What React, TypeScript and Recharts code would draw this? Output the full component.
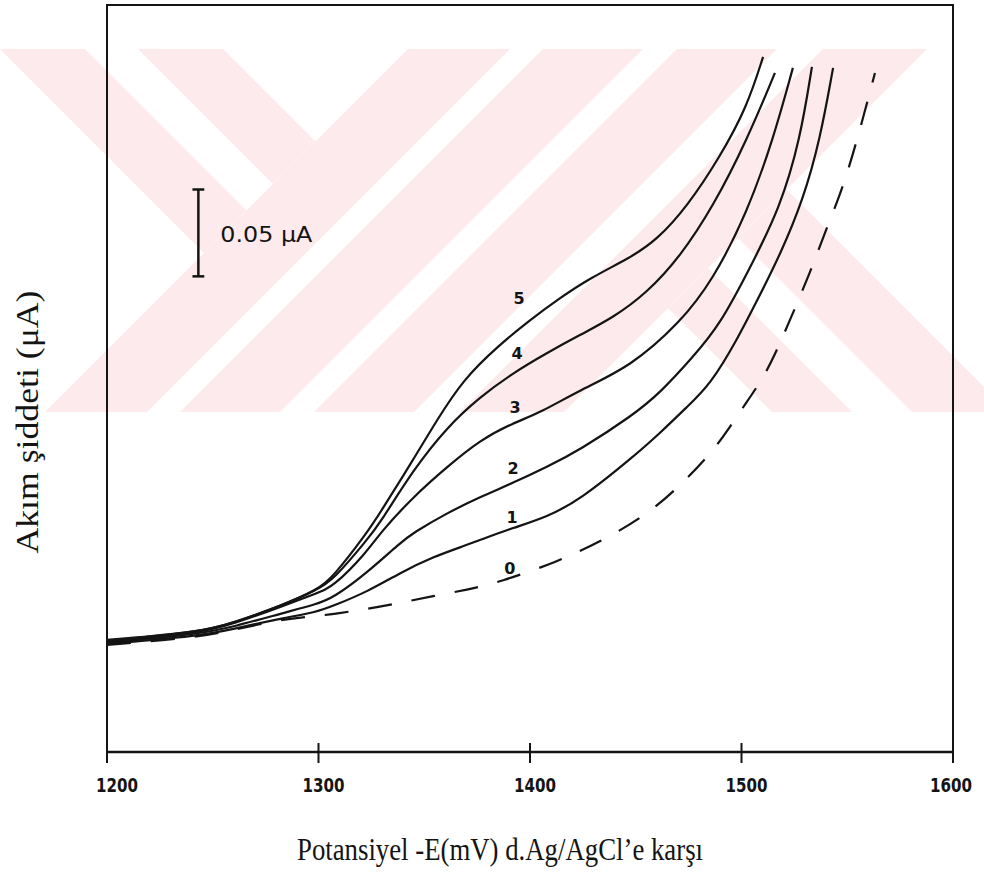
import React from 'react'
import {
  LineChart,
  Line,
  XAxis,
  YAxis,
  ReferenceArea,
  ReferenceLine,
  ReferenceDot,
  Label,
} from 'recharts'

// potential in mV (-E vs Ag/AgCl), current in µA (baseline arbitrary, scale bar = 0.05 µA)
const curve0 = [
  { e: 1200, i: 0.0616 }, { e: 1244, i: 0.0662 }, { e: 1259.6, i: 0.0702 }, { e: 1283.2, i: 0.0766 },
  { e: 1299.3, i: 0.0783 }, { e: 1306.9, i: 0.0794 }, { e: 1322.9, i: 0.0823 }, { e: 1338.5, i: 0.0858 },
  { e: 1354.1, i: 0.0898 }, { e: 1370.2, i: 0.0933 }, { e: 1385.8, i: 0.0979 }, { e: 1412.8, i: 0.1094 },
  { e: 1433.1, i: 0.1209 }, { e: 1455.3, i: 0.1364 }, { e: 1472.3, i: 0.1548 }, { e: 1488.4, i: 0.1755 },
  { e: 1500.7, i: 0.1986 }, { e: 1512.1, i: 0.2182 }, { e: 1521.5, i: 0.2447 }, { e: 1532.4, i: 0.2757 },
  { e: 1540.4, i: 0.3022 }, { e: 1548.0, i: 0.3247 }, { e: 1556.0, i: 0.358 }, { e: 1563.1, i: 0.3909 },
]

const curve1 = [
  { e: 1200, i: 0.0622 }, { e: 1244, i: 0.0668 }, { e: 1259.6, i: 0.0708 }, { e: 1283.2, i: 0.0771 },
  { e: 1299.3, i: 0.0806 }, { e: 1306.9, i: 0.0841 }, { e: 1322.9, i: 0.0921 }, { e: 1338.5, i: 0.1031 },
  { e: 1354.1, i: 0.1123 }, { e: 1370.2, i: 0.1192 }, { e: 1376.4, i: 0.1221 }, { e: 1392.0, i: 0.129 },
  { e: 1408.0, i: 0.1353 }, { e: 1423.6, i: 0.1451 }, { e: 1448.7, i: 0.1698 }, { e: 1461.5, i: 0.1836 },
  { e: 1474.2, i: 0.1986 }, { e: 1485.1, i: 0.2113 }, { e: 1497.9, i: 0.2372 }, { e: 1508.7, i: 0.2631 },
  { e: 1518.2, i: 0.2861 }, { e: 1529.1, i: 0.3178 }, { e: 1537.1, i: 0.3523 }, { e: 1543.3, i: 0.3938 },
]

const curve2 = [
  { e: 1200, i: 0.0627 }, { e: 1244, i: 0.068 }, { e: 1259.6, i: 0.072 }, { e: 1283.2, i: 0.08 },
  { e: 1299.3, i: 0.0852 }, { e: 1306.9, i: 0.0887 }, { e: 1322.9, i: 0.1031 }, { e: 1338.5, i: 0.1203 },
  { e: 1344.7, i: 0.1261 }, { e: 1360.8, i: 0.1376 }, { e: 1376.4, i: 0.1468 }, { e: 1392.0, i: 0.1549 },
  { e: 1408.0, i: 0.1641 }, { e: 1423.6, i: 0.1739 }, { e: 1448.7, i: 0.1939 }, { e: 1461.5, i: 0.2067 },
  { e: 1477.1, i: 0.2274 }, { e: 1489.8, i: 0.2459 }, { e: 1504.0, i: 0.2786 }, { e: 1518.2, i: 0.3132 },
  { e: 1527.7, i: 0.3523 }, { e: 1533.3, i: 0.3944 },
]

const curve3 = [
  { e: 1200, i: 0.0633 }, { e: 1244, i: 0.0685 }, { e: 1259.6, i: 0.0737 }, { e: 1283.2, i: 0.084 },
  { e: 1299.3, i: 0.0915 }, { e: 1306.9, i: 0.095 }, { e: 1322.9, i: 0.1151 }, { e: 1329.1, i: 0.1261 },
  { e: 1344.7, i: 0.1468 }, { e: 1360.8, i: 0.1641 }, { e: 1376.4, i: 0.1796 }, { e: 1392.0, i: 0.1894 },
  { e: 1404.7, i: 0.1952 }, { e: 1423.6, i: 0.2084 }, { e: 1447.3, i: 0.2216 }, { e: 1470.9, i: 0.247 },
  { e: 1486.5, i: 0.2717 }, { e: 1502.6, i: 0.3103 }, { e: 1514.9, i: 0.3523 }, { e: 1524.3, i: 0.3938 },
]

const curve4 = [
  { e: 1200, i: 0.0639 }, { e: 1244, i: 0.0691 }, { e: 1259.6, i: 0.0743 }, { e: 1283.2, i: 0.0846 },
  { e: 1299.3, i: 0.0933 }, { e: 1306.9, i: 0.099 }, { e: 1322.9, i: 0.122 }, { e: 1329.1, i: 0.1318 },
  { e: 1344.7, i: 0.1623 }, { e: 1360.8, i: 0.1871 }, { e: 1376.4, i: 0.2044 }, { e: 1392.0, i: 0.2182 },
  { e: 1408.0, i: 0.2297 }, { e: 1423.6, i: 0.2401 }, { e: 1439.2, i: 0.2499 }, { e: 1455.3, i: 0.2643 },
  { e: 1470.9, i: 0.285 }, { e: 1486.5, i: 0.3138 }, { e: 1502.6, i: 0.3523 }, { e: 1515.8, i: 0.3909 },
]

const curve5 = [
  { e: 1200, i: 0.0645 }, { e: 1244, i: 0.0691 }, { e: 1259.6, i: 0.0743 }, { e: 1283.2, i: 0.0846 },
  { e: 1299.3, i: 0.0933 }, { e: 1306.9, i: 0.1007 }, { e: 1322.9, i: 0.1261 }, { e: 1329.1, i: 0.1376 },
  { e: 1344.7, i: 0.1681 }, { e: 1356.0, i: 0.1911 }, { e: 1368.3, i: 0.2142 }, { e: 1384.4, i: 0.2332 },
  { e: 1400.0, i: 0.2487 }, { e: 1412.8, i: 0.2602 }, { e: 1428.4, i: 0.2729 }, { e: 1447.3, i: 0.2844 },
  { e: 1460, i: 0.2948 }, { e: 1474.2, i: 0.3138 }, { e: 1489.8, i: 0.3425 }, { e: 1502.6, i: 0.3713 },
  { e: 1510.2, i: 0.4001 },
]

const xTicks = [1200, 1300, 1400, 1500, 1600]

// curve number labels: [text, potential, current]
const curveLabels: [string, number, number][] = [
  ['5', 1394.8, 0.2614],
  ['4', 1393.9, 0.2297],
  ['3', 1392.9, 0.1986],
  ['2', 1392.0, 0.1635],
  ['1', 1391.5, 0.1353],
  ['0', 1390.5, 0.1059],
]

// 0.05 µA scale bar
const barE = 1243.2
const barBottom = 0.2738
const barTop = 0.3238

const ink = '#141414'
const pink = '#fdeaed'

// thesis-centre watermark stripes (background decoration, page pixels)
const watermark = [
  '408,49 510,49 147,412 45,412',
  '543,49 643,49 280,412 180,412',
  '677,49 777,49 414,412 314,412',
  '823,49 927,49 564,412 460,412',
  '0,49 85,49 246.5,210.5 204,253',
  '138,49 223,49 315.5,141.5 273,184',
  '786.5,189.5 1009,412 912,412 738,238',
  '708,268 852,412 772,412 668,308',
]

function XTick(props: any) {
  const { x, y, payload } = props
  const dx = payload.value === 1200 ? 10 : payload.value === 1600 ? -2 : 5
  return (
    <g>
      <line x1={x} x2={x} y1={y - 9} y2={y + 11} stroke={ink} strokeWidth={2} />
      <text
        x={x + dx}
        y={y + 40}
        textAnchor="middle"
        fontFamily="DejaVu Sans"
        fontWeight="bold"
        fontSize={20}
        textLength={42}
        lengthAdjust="spacingAndGlyphs"
        fill={ink}
      >
        {payload.value}
      </text>
    </g>
  )
}

function AxisTitles() {
  return (
    <g>
      <text
        x={500}
        y={860}
        textAnchor="middle"
        fontFamily="Liberation Serif"
        fontSize={32}
        textLength={406}
        lengthAdjust="spacingAndGlyphs"
        fill={ink}
      >
        Potansiyel -E(mV) d.Ag/AgCl’e karşı
      </text>
      <text
        x={38}
        y={422}
        transform="rotate(-90 38 422)"
        textAnchor="middle"
        fontFamily="Liberation Serif"
        fontSize={32}
        textLength={263}
        lengthAdjust="spacingAndGlyphs"
        fill={ink}
      >
        Akım şiddeti (μA)
      </text>
    </g>
  )
}

export default function App() {
  const series = [curve1, curve2, curve3, curve4, curve5]
  return (
    <div style={{ position: 'absolute', left: 0, top: 0, width: 984, height: 874, background: '#fff' }}>
      <svg width={984} height={874} style={{ position: 'absolute', left: 0, top: 0 }}>
        {watermark.map((p) => (
          <polygon key={p} points={p} fill={pink} />
        ))}
      </svg>
      <div style={{ position: 'absolute', left: 0, top: 0 }}>
        <LineChart width={984} height={874} margin={{ top: 5, right: 31, bottom: 82, left: 107 }}>
          <XAxis
            dataKey="e"
            type="number"
            domain={[1200, 1600]}
            ticks={xTicks}
            allowDataOverflow
            height={40}
            tickSize={0}
            tickMargin={0}
            tick={<XTick />}
            axisLine={{ stroke: ink, strokeWidth: 2.5 }}
            tickLine={false}
          >
            <Label content={() => <AxisTitles />} />
          </XAxis>
          <YAxis type="number" domain={[0, 0.43]} allowDataOverflow width={0} tick={false} tickLine={false} axisLine={false} />

          <ReferenceArea x1={1200} x2={1600} y1={0} y2={0.43} fill="none" stroke={ink} strokeWidth={2} ifOverflow="visible" />

          <ReferenceLine
            segment={[{ x: barE, y: barBottom }, { x: barE, y: barTop }]}
            stroke={ink}
            strokeWidth={2.5}
            label={{
              content: (p: any) => {
                const vb = p.viewBox || {}
                return (
                  <text
                    x={(vb.x ?? 198) + 22}
                    y={(vb.y ?? 186) + 53}
                    fontFamily="DejaVu Sans"
                    fontSize={22}
                    textLength={92}
                    lengthAdjust="spacingAndGlyphs"
                    fill={ink}
                  >
                    0.05 μA
                  </text>
                )
              },
            }}
          />
          <ReferenceLine segment={[{ x: barE - 2.8, y: barTop }, { x: barE + 2.8, y: barTop }]} stroke={ink} strokeWidth={2.5} />
          <ReferenceLine segment={[{ x: barE - 2.8, y: barBottom }, { x: barE + 2.8, y: barBottom }]} stroke={ink} strokeWidth={2.5} />

          <Line data={curve0} dataKey="i" type="basis" stroke={ink} strokeWidth={2.2} strokeDasharray="24 20" dot={false} isAnimationActive={false} />
          {series.map((d, k) => (
            <Line key={k} data={d} dataKey="i" type="basis" stroke={ink} strokeWidth={2.2} dot={false} isAnimationActive={false} />
          ))}

          {curveLabels.map(([t, e, i]) => (
            <ReferenceDot
              key={t}
              x={e}
              y={i}
              r={0}
              fill="none"
              stroke="none"
              label={{ value: t, position: 'center', fontFamily: 'DejaVu Sans', fontWeight: 'bold', fontSize: 16, fill: ink }}
            />
          ))}
        </LineChart>
      </div>
    </div>
  )
}
